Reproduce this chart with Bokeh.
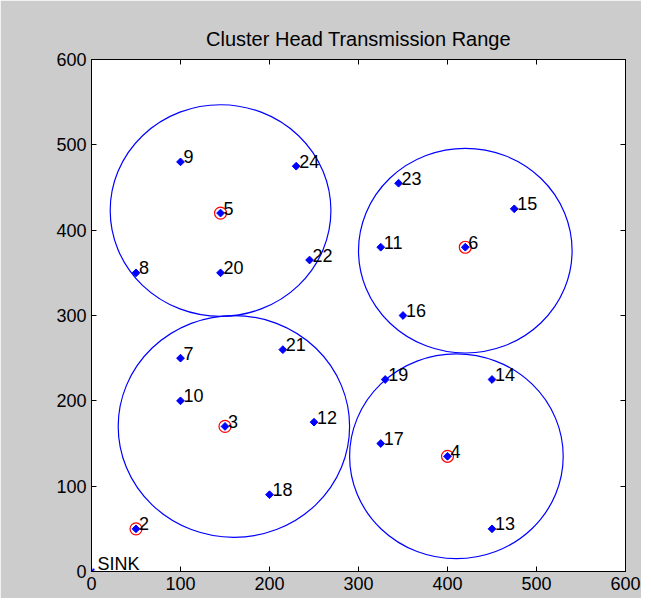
import math
from bokeh.plotting import figure
from bokeh.models import LinearAxis, FixedTicker, CustomLabelingPolicy
from bokeh.embed import file_html
from bokeh.resources import INLINE
from bokeh.core.properties import value

# ---- data ----
title_text = "Cluster Head Transmission Range"
ticks = [0, 100, 200, 300, 400, 500, 600]

node_ids = [2, 3, 4, 5, 6, 7, 8, 9, 10, 11, 12, 13, 14, 15, 16, 17, 18, 19, 20, 21, 22, 23, 24]
node_x = [50, 150, 400, 145, 420, 100, 50, 100, 100, 325, 250, 450, 450, 475, 350, 325, 200, 330, 145, 215, 245, 345, 230]
node_y = [50, 170, 135, 420, 380, 250, 350, 480, 200, 380, 175, 50, 225, 425, 300, 150, 90, 225, 350, 260, 365, 455, 475]

ch_ids = [2, 3, 4, 5, 6]
ch_x = [50, 150, 400, 145, 420]
ch_y = [50, 170, 135, 420, 380]

range_x = [145, 420, 160, 410]
range_y = [423, 376, 170, 135]
range_r = [124, 120, 130, 120]

sink_x = [0]
sink_y = [0]
sink_label = ["SINK"]

FONT = "Liberation Sans"
FS = "18px"

p = figure(width=641, height=598, x_range=(0, 600), y_range=(0, 600),
           output_backend="svg", toolbar_location=None,
           min_border_left=91, min_border_right=16, min_border_top=59, min_border_bottom=27)

p.background_fill_color = "white"
p.border_fill_color = "#cccccc"
p.outline_line_color = "black"
p.outline_line_width = 1
p.xgrid.visible = False
p.ygrid.visible = False

p.title.text = title_text
p.title.align = "center"
p.title.text_font = FONT
p.title.text_font_size = "20px"
p.title.text_font_style = "normal"
p.title.text_color = "black"
p.title.standoff = 12

no_labels = CustomLabelingPolicy(code="""
const all = [...indices]
for (const i of all) indices.unset(i)
return indices
""")

def style_axis(ax, labels=True):
    ax.ticker = FixedTicker(ticks=ticks)
    ax.major_tick_in = 5
    ax.major_tick_out = 0
    ax.minor_tick_line_color = None
    ax.axis_line_color = "black"
    ax.major_tick_line_color = "black"
    ax.major_label_text_font = FONT
    ax.major_label_text_color = "black"
    if labels:
        ax.major_label_text_font_size = FS
        ax.major_label_standoff = 5
    else:
        ax.major_label_text_font_size = "1px"
        ax.major_label_standoff = 0
        ax.major_label_policy = no_labels

style_axis(p.xaxis[0])
style_axis(p.yaxis[0])
top_ax = LinearAxis()
right_ax = LinearAxis()
style_axis(top_ax, labels=False)
style_axis(right_ax, labels=False)
p.add_layout(top_ax, "above")
p.add_layout(right_ax, "right")

# range circles (data-space circles)
p.ellipse(x=range_x, y=range_y, width=[2 * r for r in range_r], height=[2 * r for r in range_r],
          fill_color=None, line_color="blue", line_width=1.2)

# cluster head markers
p.scatter(x=ch_x, y=ch_y, marker="circle", size=12, fill_color=None, line_color="red", line_width=1.2)

# nodes
p.scatter(x=node_x, y=node_y, marker="square", angle=math.pi / 4, size=5.5, color="blue")
p.text(x=node_x, y=node_y, text=[str(i) for i in node_ids], text_font=value(FONT),
       text_font_size=FS, text_baseline="middle", text_align="left", x_offset=3, y_offset=-5,
       text_color="black")

# sink
p.scatter(x=sink_x, y=sink_y, marker="asterisk", size=8, line_color="blue", line_width=1.5)
p.text(x=sink_x, y=sink_y, text=sink_label, text_font=value(FONT), text_font_size=FS,
       text_baseline="middle", text_align="left", x_offset=6, y_offset=-8, text_color="black")

open("out.html", "w").write(file_html(p, INLINE))
